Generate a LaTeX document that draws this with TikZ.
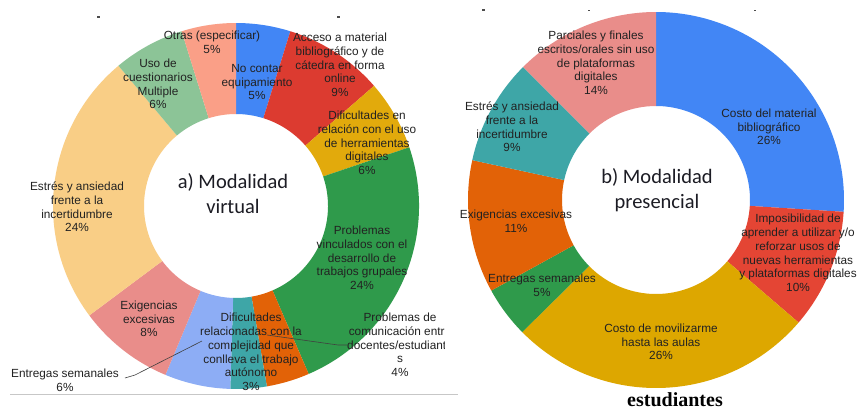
\documentclass[tikz,border=0pt]{standalone}
\usepackage{fontspec}
\setmainfont{Liberation Sans}
\newfontfamily\calib{Carlito}
\newfontfamily\serifb{Liberation Serif}
\usetikzlibrary{calc}
\definecolor{cBlue}{HTML}{4286F5}
\definecolor{cRed}{HTML}{DC3B30}
\definecolor{cGold}{HTML}{E2AA0C}
\definecolor{cGreen}{HTML}{2F9A4B}
\definecolor{cOrange}{HTML}{E26207}
\definecolor{cTeal}{HTML}{3EA6A7}
\definecolor{cPeri}{HTML}{8DADF5}
\definecolor{cPink}{HTML}{E98D8A}
\definecolor{cLOrange}{HTML}{F9CE86}
\definecolor{cLGreen}{HTML}{8CC497}
\definecolor{cSalmon}{HTML}{FA9F87}
\definecolor{cRedB}{HTML}{E44534}
\definecolor{cGoldB}{HTML}{DDA700}
\definecolor{labtext}{HTML}{222222}
\definecolor{ctrtext}{HTML}{1C1C24}
\newcommand\donutslice[7]{%
  \fill[#7] ({#1+#3*cos(-90+3.6*#5)},{#2+#3*sin(-90+3.6*#5)})
    arc[start angle={-90+3.6*#5}, end angle={-90+3.6*#6}, radius=#3]
    -- ({#1+#4*cos(-90+3.6*#6)},{#2+#4*sin(-90+3.6*#6)})
    arc[start angle={-90+3.6*#6}, end angle={-90+3.6*#5}, radius=#4] -- cycle;}
\tikzset{
  lab/.style={align=center, inner sep=0pt, text=labtext, font=\fontsize{11.8}{13.7}\selectfont},
  ctr/.style={align=center, inner sep=0pt, text=ctrtext, font=\calib\fontsize{20.5}{25}\selectfont},
  leader/.style={draw=black!75, line width=0.6pt},
  speck/.style={fill=black!70}
}
\begin{document}
\begin{tikzpicture}[x=1pt,y=-1pt]
\useasboundingbox (0,0) rectangle (857,410);
\fill[white] (0,0) rectangle (857,410);
% ---------- left chart ----------
\donutslice{236}{206}{183}{92}{0}{4.8}{cBlue}
\donutslice{236}{206}{183}{92}{4.8}{13.6}{cRed}
\donutslice{236}{206}{183}{92}{13.6}{19.8}{cGold}
\donutslice{236}{206}{183}{92}{19.8}{43.5}{cGreen}
\donutslice{236}{206}{183}{92}{43.5}{47.3}{cOrange}
\donutslice{236}{206}{183}{92}{47.3}{50.5}{cTeal}
\donutslice{236}{206}{183}{92}{50.5}{56.3}{cPeri}
\donutslice{236}{206}{183}{92}{56.3}{64.8}{cPink}
\donutslice{236}{206}{183}{92}{64.8}{88.9}{cLOrange}
\donutslice{236}{206}{183}{92}{88.9}{95.2}{cLGreen}
\donutslice{236}{206}{183}{92}{95.2}{100}{cSalmon}
% ---------- right chart ----------
\donutslice{656}{200}{188}{94}{0}{26}{cBlue}
\donutslice{656}{200}{188}{94}{26}{36.3}{cRedB}
\donutslice{656}{200}{188}{94}{36.3}{62.6}{cGoldB}
\donutslice{656}{200}{188}{94}{62.6}{67}{cGreen}
\donutslice{656}{200}{188}{94}{67}{78.4}{cOrange}
\donutslice{656}{200}{188}{94}{78.4}{87.5}{cTeal}
\donutslice{656}{200}{188}{94}{87.5}{100}{cPink}
% specks and rule
\fill[speck] (97,16) rectangle (99.5,18);
\fill[speck] (337,16) rectangle (339.5,18);
\fill[speck] (482,9) rectangle (484.5,11);
\fill[speck] (588,9.5) rectangle (590,11);
\fill[speck] (754,9.5) rectangle (756,11);
\draw[black!22, line width=0.8pt] (10,394.5) -- (458,394.5);
% ---------- left labels ----------
\begin{scope}
\clip (0,0) rectangle (444,410);
\node[ctr] (ta) at (233,194) {a) Modalidad\\virtual};
\node[lab] (l1) at (212,42) {Otras (especificar)\\5\%};
\node[lab] (l2) at (257,82) {No contar\\equipamiento\\5\%};
\node[lab] (l3) at (340,65) {Acceso a material\\bibliográfico y de\\cátedra en forma\\online\\9\%};
\node[lab] (l4) at (367,143) {Dificultades en\\relación con el uso\\de herramientas\\digitales\\6\%};
\node[lab] (l5) at (362,258) {Problemas\\vinculados con el\\desarrollo de\\trabajos grupales\\24\%};
\node[lab] (pc) at (400,345) {Problemas de\\comunicación entre\\docentes/estudiante\\s\\4\%};
\node[lab] (l7) at (251,352) {Dificultades\\relacionadas con la\\complejidad que\\conlleva el trabajo\\autónomo\\3\%};
\node[lab] (es) at (65,380) {Entregas semanales\\6\%};
\node[lab] (l9) at (149,319) {Exigencias\\excesivas\\8\%};
\node[lab] (l10) at (77,207) {Estrés y ansiedad\\frente a la\\incertidumbre\\24\%};
\node[lab] (l11) at (158,84) {Uso de\\cuestionarios\\Multiple\\6\%};
\coordinate (lo) at (267,335);
\coordinate (lp) at (202,341);
\draw[leader] (lo) -- ($(pc.west)+(-9,0)$) -- (pc.west);
\draw[leader] (lp) -- ($(es.east)+(16,-5)$) -- ($(es.east)+(6,-2)$);
\end{scope}
% ---------- right labels ----------
\node[ctr] (tb) at (657,190) {b) Modalidad\\presencial};
\node[lab] (r1) at (769,127) {Costo del material\\bibliográfico\\26\%};
\node[lab] (r2) at (798,253) {Imposibilidad de\\aprender a utilizar y/o\\reforzar usos de\\nuevas herramientas\\y plataformas digitales\\10\%};
\node[lab] (r3) at (661,342) {Costo de movilizarme\\hasta las aulas\\26\%};
\node[lab] (r4) at (542,285) {Entregas semanales\\5\%};
\node[lab] (r5) at (516,221) {Exigencias excesivas\\11\%};
\node[lab] (r6) at (512,127) {Estrés y ansiedad\\frente a la\\incertidumbre\\9\%};
\node[lab] (r7) at (596,63) {Parciales y finales\\escritos/orales sin uso\\de plataformas\\digitales\\14\%};
\node[anchor=base, inner sep=0pt, font=\serifb\bfseries\fontsize{20}{24}\selectfont] (est) at (675,406) {estudiantes};
\end{tikzpicture}
\end{document}
